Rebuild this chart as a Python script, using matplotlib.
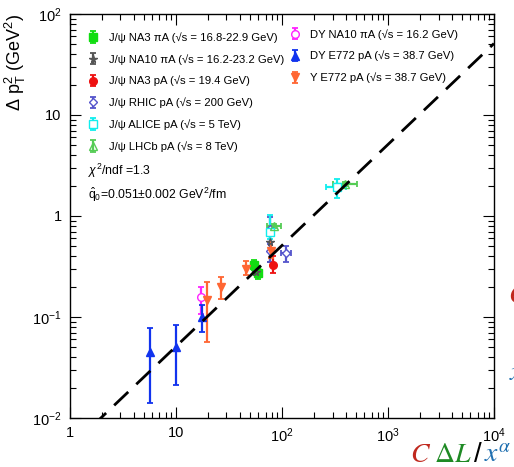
import numpy as np
import matplotlib
matplotlib.use("Agg")
import matplotlib.pyplot as plt

plt.rcParams['font.family'] = ['Liberation Sans', 'DejaVu Sans']
plt.rcParams['mathtext.fontset'] = 'custom'
plt.rcParams['mathtext.rm'] = 'Liberation Sans'
plt.rcParams['mathtext.it'] = 'Liberation Sans:italic'
plt.rcParams['mathtext.bf'] = 'Liberation Sans:bold'

# ---- data ----
na3_pia_x = [55, 57, 59]
na3_pia_y = [0.33, 0.29, 0.27]
na3_pia_e = [0.04, 0.03, 0.03]

na10_pia_x = [57, 78]
na10_pia_y = [0.28, 0.55]
na10_pia_e = [0.02, 0.20]

na3_pa_x = [82]
na3_pa_y = [0.33]
na3_pa_e = [[0.06], [0.07]]

rhic_x = [78, 78, 110]
rhic_y = [0.75, 0.45, 0.43]
rhic_e = [0.22, 0.10, 0.08]
rhic_xe = [0, 0, 12]

alice_x = [78, 330]
alice_y = [0.69, 1.95]
alice_e = [[0.1, 0.45], [0.33, 0.35]]
alice_xe = [0, 70]

lhcb_x = [84, 390]
lhcb_y = [0.80, 2.06]
lhcb_e = [0.04, 0.1]
lhcb_xe = [[11, 90], [15, 120]]

dy_na10_x = [17.2]
dy_na10_y = [0.158]
dy_na10_e = [[0.05], [0.04]]

dy_e772_x = [5.7, 10.0, 17.6]
dy_e772_y = [0.045, 0.050, 0.100]
dy_e772_e = [[0.031, 0.029, 0.029], [0.033, 0.033, 0.03]]

ups_x = [19.6, 26.6, 45.7, 78.7]
ups_y = [0.147, 0.20, 0.30, 0.45]
ups_e = [[0.091, 0.05, 0.04, 0.07], [0.073, 0.05, 0.06, 0.1]]

q0_slope = 0.0051
fit_x = [1.0, 1e4]

fig = plt.figure(figsize=(5.14, 4.67), dpi=100)
ax = fig.add_axes([0.136, 0.105, 0.825, 0.865])
ax.set_xscale('log')
ax.set_yscale('log')
ax.set_xlim(1, 1e4)
ax.set_ylim(1e-2, 1e2)

fx = np.array(fit_x)
ax.plot(fx, q0_slope * fx, color='black', lw=2, dashes=(7, 4), zorder=5)

kw = dict(capsize=2, elinewidth=1.6, capthick=1.3, markersize=5.5, ls='none', zorder=3)

series = [
    (na3_pia_x, na3_pia_y, na3_pia_e, None, dict(fmt='s', color='#11dd11'), u'J/\u03c8 NA3 \u03c0A (\u221as = 16.8-22.9 GeV)'),
    (na10_pia_x, na10_pia_y, na10_pia_e, None, dict(fmt='*', color='#555555', mfc='none'), u'J/\u03c8 NA10 \u03c0A (\u221as = 16.2-23.2 GeV)'),
    (na3_pa_x, na3_pa_y, na3_pa_e, None, dict(fmt='o', color='#ee1111'), u'J/\u03c8 NA3 pA (\u221as = 19.4 GeV)'),
    (rhic_x, rhic_y, rhic_e, rhic_xe, dict(fmt='D', color='#5555cc', mfc='white', markersize=4.5), u'J/\u03c8 RHIC pA (\u221as = 200 GeV)'),
    (alice_x, alice_y, alice_e, alice_xe, dict(fmt='s', color='#11eeee', mfc='white'), u'J/\u03c8 ALICE pA (\u221as = 5 TeV)'),
    (lhcb_x, lhcb_y, lhcb_e, lhcb_xe, dict(fmt='^', color='#55cc55', mfc='none'), u'J/\u03c8 LHCb pA (\u221as = 8 TeV)'),
    (dy_na10_x, dy_na10_y, dy_na10_e, None, dict(fmt='o', color='#ff22ff', mfc='white'), u'DY NA10 \u03c0A (\u221as = 16.2 GeV)'),
    (dy_e772_x, dy_e772_y, dy_e772_e, None, dict(fmt='^', color='#1133ee'), u'DY E772 pA (\u221as = 38.7 GeV)'),
    (ups_x, ups_y, ups_e, None, dict(fmt='v', color='#ff6633'), u'\u03a5 E772 pA (\u221as = 38.7 GeV)'),
]

handles = []
for xs, ys, ye, xe, style, lab in series:
    opts = dict(kw)
    opts.update(style)
    ax.errorbar(xs, ys, yerr=ye, xerr=xe, **opts)
    h = ax.errorbar([np.nan], [np.nan], yerr=[1], **opts)
    handles.append((h, lab))

leg_kw = dict(frameon=False, fontsize=8.1, handlelength=1.0, handletextpad=0.85,
              labelspacing=0.98, borderpad=0, borderaxespad=0, loc='upper left')
leg1 = ax.legend([h for h, _ in handles[:6]], [l for _, l in handles[:6]],
                 bbox_to_anchor=(0.042, 0.955), **leg_kw)
ax.add_artist(leg1)
ax.legend([h for h, _ in handles[6:]], [l for _, l in handles[6:]],
          bbox_to_anchor=(0.518, 0.963), **leg_kw)

ax.text(0.042, 0.612, r'$\chi^2$/ndf =1.3', transform=ax.transAxes, fontsize=8.8, va='center')
ax.text(0.042, 0.553, r'$\hat{\mathrm{q}}_0$=0.051$\pm$0.002 GeV$^2$/fm', transform=ax.transAxes,
        fontsize=8.8, va='center')

# axes style (ROOT-like)
ax.tick_params(which='both', direction='in', top=True, right=True, width=0.8)
ax.tick_params(which='major', length=8, labelsize=10.5, pad=6)
ax.tick_params(which='minor', length=4)
ax.set_xticks([1, 10, 100, 1000, 10000])
ax.set_xticklabels(['1', '10', r'$10^2$', r'$10^3$', r'$10^4$'])
ax.set_yticks([0.01, 0.1, 1, 10, 100])
ax.set_yticklabels([r'$10^{-2}$', r'$10^{-1}$', '1', '10', r'$10^2$'])
for s in ax.spines.values():
    s.set_linewidth(1.0)
ax.set_ylabel(r'$\Delta$ p$_\mathrm{T}^2$ (GeV$^2$)', fontsize=13, loc='top', labelpad=3)

# coloured x-axis title
fig.canvas.draw()
r = fig.canvas.get_renderer()
pieces = [('$C$', '#c0281e'), (r'$\Delta L$', '#1e8a24'), ('/', 'black'), (r'$x^{\alpha}$', '#1f6fb0')]
xpos = 410 / 514
for txt, col in pieces:
    t = fig.text(xpos, 1 - 455 / 467, txt, color=col, fontsize=20, math_fontfamily='stix',
                 va='center', ha='left')
    bb = t.get_window_extent(renderer=r)
    xpos += bb.width / fig.bbox.width + 0.005

# cut-off glyphs at right edge
fig.text(508 / 514, 1 - 296 / 467, '$C$', color='#c0281e', fontsize=20, math_fontfamily='stix', va='center')
fig.text(509 / 514, 1 - 373 / 467, '$x$', color='#1f6fb0', fontsize=20, math_fontfamily='stix', va='center')

fig.savefig('out.png', dpi=100)
